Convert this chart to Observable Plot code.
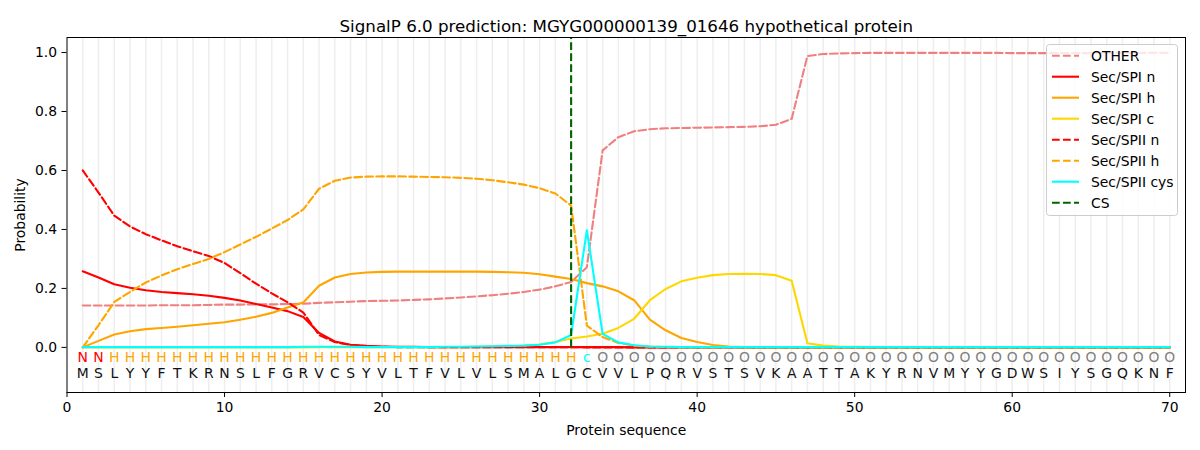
<!DOCTYPE html>
<html><head><meta charset="utf-8">
<script src="https://cdn.jsdelivr.net/npm/d3@7"></script>
<script src="https://cdn.jsdelivr.net/npm/@observablehq/plot@0.6"></script>
<style>
body{margin:0;background:#fff;font-family:"DejaVu Sans",sans-serif;}
#wrap{position:relative;width:1200px;height:450px;}
#legend{position:absolute;left:1046px;top:44px;}
</style></head>
<body><div id="wrap"><div id="legend"></div></div>
<script>
const title = "SignalP 6.0 prediction: MGYG000000139_01646 hypothetical protein";
const sequence = "MSLYYFTKRNSLFGRVCSYVLTFVLVLSMALGCVVLPQRVSTSVKAATTAKYRNVMYYGDWSIYSGQKNF".split("");
const regionLabels = ("NN" + "H".repeat(30) + "c" + "O".repeat(37)).split("");
const labelColors = {N:"#ff0000", H:"#ffa500", c:"#00ffff", O:"#808080"};
const csPosition = 32;
const xTicks = [0,10,20,30,40,50,60,70];
const yTicks = [0,0.2,0.4,0.6,0.8,1.0];
const xDomain = [0, 71];
const yDomain = [-0.153, 1.051];

const other = [0.142,0.142,0.142,0.142,0.142,0.143,0.143,0.143,0.144,0.145,
0.145,0.146,0.146,0.147,0.148,0.151,0.153,0.155,0.157,0.158,
0.159,0.161,0.163,0.166,0.169,0.173,0.177,0.182,0.188,0.196,
0.207,0.222,0.272,0.668,0.713,0.733,0.740,0.743,0.744,0.745,
0.746,0.747,0.748,0.750,0.755,0.775,0.988,0.995,0.997,0.998,
0.999,0.999,0.999,0.999,0.999,0.999,0.999,0.999,0.999,0.998,
0.998,0.998,0.998,0.998,0.998,0.999,0.999,0.999,0.999,0.999];
const spiN = [0.258,0.237,0.214,0.202,0.194,0.188,0.184,0.180,0.175,0.168,
0.159,0.147,0.135,0.123,0.103,0.049,0.020,0.009,0.005,0.003,
0.002,0.002,0.001,0.001,0.001,0.001,0.001,0.001,0.001,0.001,
0.001,0.001,0.001,0.001,0.001,0,0,0,0,0,
0,0,0,0,0,0,0,0,0,0,
0,0,0,0,0,0,0,0,0,0,
0,0,0,0,0,0,0,0,0,0];
const spiH = [0.000,0.022,0.044,0.055,0.062,0.066,0.070,0.075,0.080,0.085,
0.094,0.104,0.117,0.135,0.152,0.209,0.237,0.249,0.254,0.256,
0.257,0.257,0.257,0.257,0.257,0.257,0.256,0.255,0.253,0.248,
0.240,0.232,0.218,0.207,0.190,0.160,0.094,0.058,0.032,0.018,
0.008,0.003,0.001,0.001,0,0,0,0,0,0,
0,0,0,0,0,0,0,0,0,0,
0,0,0,0,0,0,0,0,0,0];
const spiC = [0,0,0,0,0,0,0,0,0,0,
0,0,0,0,0,0.001,0.001,0.001,0.001,0.001,
0.001,0.001,0.001,0.001,0.001,0.002,0.003,0.004,0.006,0.010,
0.018,0.030,0.037,0.046,0.066,0.097,0.160,0.198,0.224,0.236,
0.245,0.249,0.250,0.249,0.245,0.226,0.014,0.006,0.003,0.002,
0.001,0.001,0.001,0.001,0.001,0.001,0.001,0.001,0.001,0.001,
0.001,0.001,0.001,0.001,0.001,0.001,0.001,0.001,0.001,0.001];
const spiiN = [0.600,0.525,0.447,0.410,0.384,0.363,0.343,0.326,0.310,0.286,
0.252,0.216,0.183,0.153,0.118,0.042,0.018,0.008,0.004,0.002,
0.001,0.001,0.001,0.001,0.001,0.001,0.001,0.001,0.001,0.001,
0.001,0.001,0,0,0,0,0,0,0,0,
0,0,0,0,0,0,0,0,0,0,
0,0,0,0,0,0,0,0,0,0,
0,0,0,0,0,0,0,0,0,0];
const spiiH = [0.000,0.075,0.154,0.188,0.220,0.244,0.265,0.283,0.300,0.323,
0.349,0.375,0.403,0.432,0.468,0.538,0.565,0.576,0.579,0.580,
0.580,0.579,0.578,0.577,0.575,0.572,0.567,0.560,0.552,0.540,
0.522,0.481,0.074,0.035,0.015,0.006,0.002,0.001,0,0,
0,0,0,0,0,0,0,0,0,0,
0,0,0,0,0,0,0,0,0,0,
0,0,0,0,0,0,0,0,0,0];
const spiiCys = [0.001,0.001,0.001,0.001,0.001,0.001,0.001,0.001,0.001,0.001,
0.001,0.001,0.001,0.001,0.002,0.002,0.002,0.002,0.001,0.001,
0.001,0.001,0.001,0.002,0.002,0.003,0.004,0.005,0.006,0.009,
0.017,0.042,0.397,0.046,0.017,0.007,0.003,0.002,0.001,0.001,
0.001,0.001,0.001,0.001,0.001,0.001,0.001,0.001,0.001,0.001,
0.001,0.001,0.001,0.001,0.001,0.001,0.001,0.001,0.001,0.001,
0.001,0.001,0.001,0.001,0.001,0.001,0.001,0.001,0.001,0.001];

const dash = "7.7,3.3";
const series = [
  {name:"OTHER", values:other, color:"#f08080", dash:dash},
  {name:"Sec/SPI n", values:spiN, color:"#ff0000", dash:null},
  {name:"Sec/SPI h", values:spiH, color:"#ffa500", dash:null},
  {name:"Sec/SPI c", values:spiC, color:"#ffd700", dash:null},
  {name:"Sec/SPII n", values:spiiN, color:"#ff0000", dash:dash},
  {name:"Sec/SPII h", values:spiiH, color:"#ffa500", dash:dash},
  {name:"Sec/SPII cys", values:spiiCys, color:"#00ffff", dash:null}
];
const positions = sequence.map((_, i) => i + 1);
const residues = sequence.map((aa, i) => ({pos: positions[i], aa, lab: regionLabels[i], col: labelColors[regionLabels[i]]}));

const lineMarks = series.map(s => Plot.line(s.values.map((v, i) => ({pos: positions[i], v})), {
  x: "pos", y: "v", stroke: s.color, strokeWidth: 2.1, strokeDasharray: s.dash || undefined
}));

const font = "DejaVu Sans";
const chart = Plot.plot({
  width: 1200, height: 450,
  marginLeft: 66.5, marginRight: 15, marginTop: 37, marginBottom: 58,
  style: {fontFamily: font, fontSize: "13.9px", color: "black", background: "white"},
  x: {domain: xDomain},
  y: {domain: yDomain},
  color: {type: "identity"},
  marks: [
    Plot.ruleX(positions, {stroke: "#eeeeee", strokeWidth: 1.5}),
    ...lineMarks,
    Plot.ruleX([csPosition], {x: d => d, y1: 0, y2: yDomain[1], stroke: "#006400", strokeWidth: 2.1, strokeDasharray: dash}),
    Plot.text(residues, {x: "pos", text: "lab", fill: "col", frameAnchor: "bottom", dy: -31, fontSize: 13.9}),
    Plot.text(residues, {x: "pos", text: "aa", fill: "#111", frameAnchor: "bottom", dy: -15, fontSize: 13.9}),
    Plot.axisX({ticks: xTicks, tickSize: 5, tickPadding: 4.5, tickFormat: d => String(d), label: "Protein sequence", labelAnchor: "center", labelArrow: "none", labelOffset: 42}),
    Plot.axisY({ticks: yTicks, tickSize: 5, tickPadding: 5, tickFormat: d3.format(".1f"), label: "Probability", labelAnchor: "center", labelArrow: "none", labelOffset: 52}),
    Plot.frame({stroke: "black", strokeWidth: 1}),
    Plot.text([title], {frameAnchor: "top", dy: -17, fontSize: 16.7, fill: "black"})
  ]
});
document.getElementById("wrap").prepend(chart);

// legend
const legendItems = [...series.map(s => ({name: s.name, color: s.color, dash: s.dash})), {name: "CS", color: "#006400", dash: dash}];
const lw = 132, lh = 172;
const lsvg = d3.select("#legend").append("svg").attr("width", lw).attr("height", lh);
lsvg.append("rect").attr("x", 0.5).attr("y", 0.5).attr("width", lw - 1).attr("height", lh - 1)
  .attr("rx", 3).attr("fill", "rgba(255,255,255,0.8)").attr("stroke", "#cccccc");
legendItems.forEach((d, i) => {
  const y = 11.7 + 21 * i;
  lsvg.append("line").attr("x1", 6).attr("x2", 33).attr("y1", y).attr("y2", y)
    .attr("stroke", d.color).attr("stroke-width", 2.1).attr("stroke-dasharray", d.dash || null);
  lsvg.append("text").attr("x", 45).attr("y", y).attr("dy", "0.35em")
    .attr("font-family", font).attr("font-size", "13.9px").attr("fill", "black").text(d.name);
});
</script>
</body></html>
